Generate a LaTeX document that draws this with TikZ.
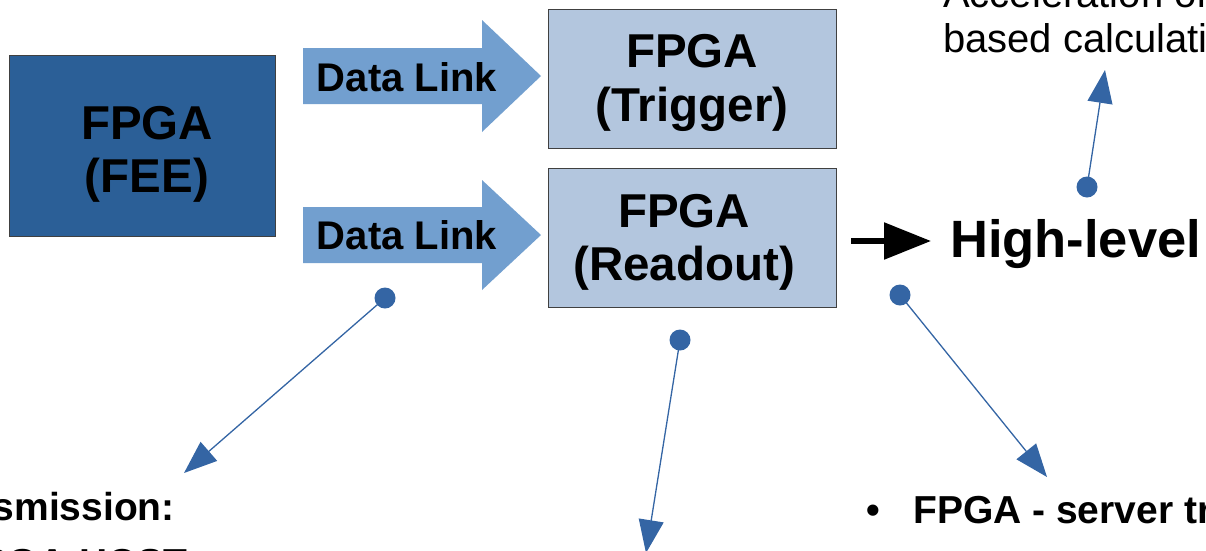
\documentclass[tikz,border=0pt]{standalone}
\usepackage{fontspec}
\setmainfont{Liberation Sans}
\usetikzlibrary{arrows.meta,calc}
\definecolor{feeblue}{RGB}{43,95,151}
\definecolor{boxblue}{RGB}{179,198,222}
\definecolor{linkblue}{RGB}{114,159,207}
\definecolor{dotblue}{RGB}{52,101,164}
\begin{document}
\begin{tikzpicture}[x=1pt,y=-1pt,
  fpgabox/.style={rectangle,draw=black!75,line width=1pt,inner sep=0pt},
  boxtext/.style={inner sep=0pt,anchor=base,font=\fontsize{47.5}{47.5}\selectfont\bfseries},
  linktext/.style={inner sep=0pt,anchor=base,font=\fontsize{40}{40}\selectfont\bfseries},
  bodytext/.style={inner sep=0pt,font=\fontsize{39}{39}\selectfont\bfseries},
  lighttext/.style={inner sep=0pt,anchor=base west,font=\fontsize{40}{40}\selectfont},
  dot/.style={circle,fill=dotblue,minimum size=21pt,inner sep=0pt},
  conn/.style={draw=dotblue,line width=1.3pt,-{Triangle[length=33pt,width=25pt]}},
  linkarrow/.style={fill=linkblue}]
\useasboundingbox (0,0) rectangle (1206,550);
\clip (0,0) rectangle (1206,550);

% FPGA boxes
\node[fpgabox,fill=feeblue,minimum width=266pt,minimum height=181pt] (fee) at (142,145.5) {};
\node[boxtext] (feeA) at (147,139.5) {FPGA};
\node[boxtext] (feeB) at (147,192.5) {(FEE)};

\node[fpgabox,fill=boxblue,minimum width=288pt,minimum height=139pt] (trig) at (692,78.5) {};
\node[boxtext] (trigA) at (692,67.5) {FPGA};
\node[boxtext] (trigB) at (692,121.5) {(Trigger)};

\node[fpgabox,fill=boxblue,minimum width=288pt,minimum height=139pt] (read) at (692,237.5) {};
\node[boxtext] (readA) at (684,227.5) {FPGA};
\node[boxtext] (readB) at (684,280.5) {(Readout)};

% data link block arrows
\fill[linkarrow] (303,48) -- (482,48) -- (482,20) -- (541,76) -- (482,132) -- (482,104) -- (303,104) -- cycle;
\node[linktext] (linkA) at (407,91) {Data Link};
\fill[linkarrow] (303,207) -- (482,207) -- (482,180) -- (541,235) -- (482,290) -- (482,263) -- (303,263) -- cycle;
\node[linktext] (linkB) at (407,249) {Data Link};

% output to the high-level stage
\coordinate (hstart) at (851,241);
\coordinate (hend) at (931,241);
\node[inner sep=0pt,anchor=base west,font=\fontsize{52.5}{52.5}\selectfont\bfseries] (high) at (950,257) {High-level};
\draw[line width=5.5pt,-{Triangle[length=47pt,width=36pt]}] (hstart) -- (hend);

% annotation markers and pointers
\node[dot] (p1) at (385,298) {};
\node[dot] (p2) at (680,340) {};
\node[dot] (p3) at (900,295) {};
\node[dot] (p4) at (1087,187) {};
\coordinate (q1) at (184,473);
\coordinate (q2) at (646,553);
\coordinate (q3) at (1047,477);
\coordinate (q4) at (1105,70);
\draw[conn] (p1.center) -- (q1);
\draw[conn] (p2.center) -- (q2);
\draw[conn] (p3.center) -- (q3);
\draw[conn] (p4.center) -- (q4);

% annotation texts
\node[lighttext] (accA) at (943,7) {Acceleration of};
\node[lighttext] (accB) at (943,52) {based calculations};

\node[bodytext,anchor=base east] (trA) at (175,520) {Data transmission:};
\node[bodytext,anchor=base east] (trB) at (188,576) {FPGA-HOST};

\node[bodytext,anchor=base west] (bul) at (866,523) {•};
\node[bodytext,anchor=base west] (srv) at (913,523) {FPGA - server transmission};
\end{tikzpicture}
\end{document}
